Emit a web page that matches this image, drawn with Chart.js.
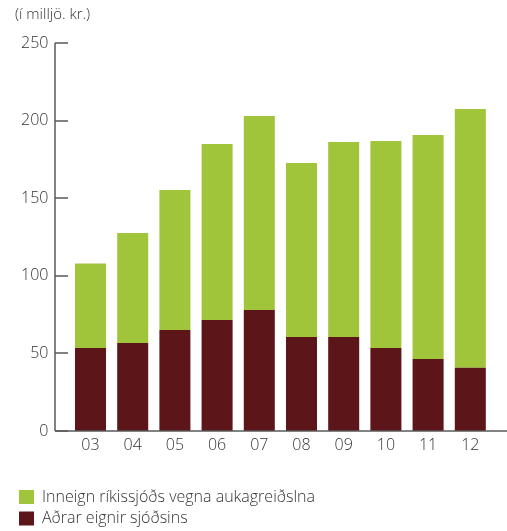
<!DOCTYPE html>
<html>
<head>
<meta charset="utf-8">
<script src="https://cdn.jsdelivr.net/npm/chart.js@4.4.1/dist/chart.umd.min.js"></script>
<style>
  html,body{margin:0;padding:0;background:#fff;}
  #wrap{position:relative;width:507px;height:531px;}
</style>
</head>
<body>
<div id="wrap"><canvas id="sjodur"></canvas></div>
<script>
// ár (2003-2012) og eignir sjóðsins í milljónum kr.
const years=['03','04','05','06','07','08','09','10','11','12']
const adrarEignir=[53.5,56.7,65.1,71.5,78,60.6,60.6,53.5,46.4,40.8]
const inneign=[54.5,70.9,90.2,113.4,125,112.1,125.6,133.4,144.3,166.7]
const yTicks=[0,50,100,150,200,250]
const unitLabel='(í milljö. kr.)'

const GREEN='#a0c43a'
const DARK='#5c1518'
const TXT='#333333'
const FONT='"Open Sans", Lato, sans-serif'

// ásar, eining og skýringar teiknaðar beint á strigann
const axesAndLegend={
  id:'axesAndLegend',
  afterDraw(chart){
    const ctx=chart.ctx
    const y=chart.scales.y
    const axX=55
    const y0=y.getPixelForValue(0)
    const yTop=y.getPixelForValue(250)
    ctx.save()
    ctx.strokeStyle='#5a5a5a'
    ctx.lineWidth=1.5
    ctx.beginPath()
    ctx.moveTo(axX,yTop)
    ctx.lineTo(axX,y0)
    yTicks.forEach(v=>{
      const py=Math.round(y.getPixelForValue(v))
      ctx.moveTo(axX,py)
      ctx.lineTo(axX+13,py)
    })
    ctx.stroke()
    ctx.beginPath()
    ctx.moveTo(axX,y0)
    ctx.lineTo(chart.width,y0)
    ctx.stroke()

    ctx.fillStyle=TXT
    ctx.font='300 15px '+FONT
    ctx.textBaseline='top'
    ctx.fillText(unitLabel,15,7)

    // skýringar, efri liðurinn fyrst
    const ds=chart.data.datasets.slice().reverse()
    ctx.font='300 16px '+FONT
    ctx.textBaseline='middle'
    ds.forEach((d,i)=>{
      const cy=497+i*21.5
      ctx.fillStyle=d.backgroundColor
      ctx.fillRect(19,cy-7,15,14)
      ctx.fillStyle=TXT
      ctx.fillText(d.label,42,cy)
    })
    ctx.restore()
  }
}

new Chart(document.getElementById('sjodur'),{
  type:'bar',
  data:{
    labels:years,
    datasets:[
      {label:'Aðrar eignir sjóðsins',data:adrarEignir,backgroundColor:DARK},
      {label:'Inneign ríkissjóðs vegna aukagreiðslna',data:inneign,backgroundColor:GREEN}
    ]
  },
  options:{
    responsive:true,
    maintainAspectRatio:false,
    animation:false,
    layout:{padding:{top:43,right:15.6,left:0,bottom:0}},
    datasets:{bar:{barPercentage:0.735,categoryPercentage:1}},
    plugins:{legend:{display:false},tooltip:{enabled:false}},
    scales:{
      x:{
        stacked:true,
        grid:{display:false,drawTicks:false},
        border:{display:false},
        ticks:{color:TXT,padding:5,font:{family:FONT,size:16,weight:300}},
        afterFit(s){s.height=100}
      },
      y:{
        stacked:true,
        min:0,max:250,
        grid:{display:false,drawTicks:false},
        border:{display:false},
        ticks:{stepSize:50,color:TXT,padding:21,font:{family:FONT,size:16,weight:300}},
        afterFit(s){s.width=69.4}
      }
    }
  },
  plugins:[axesAndLegend]
})
</script>
</body>
</html>
